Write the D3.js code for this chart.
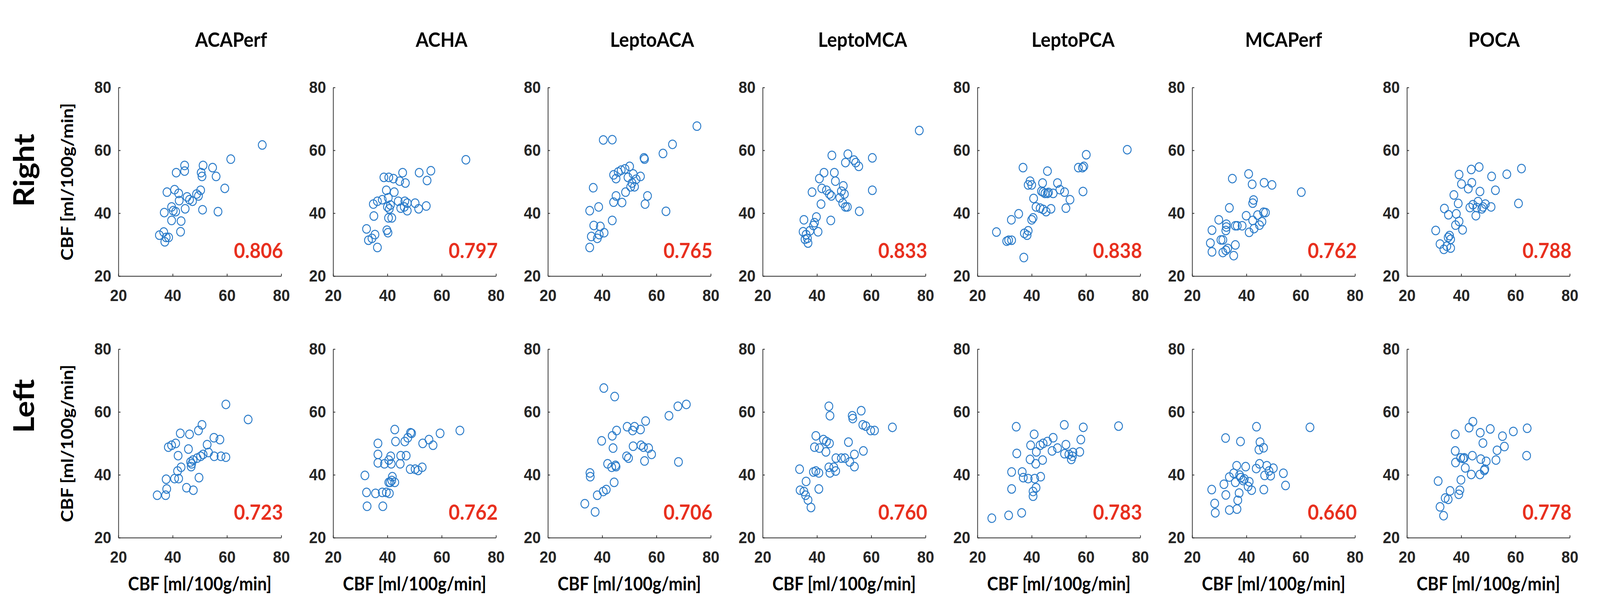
<!DOCTYPE html>
<html>
<head>
<meta charset="utf-8">
<script src="https://cdn.jsdelivr.net/npm/d3@7"></script>
<style>
  html, body { margin: 0; padding: 0; background: #fff; overflow: hidden; }
  #chart svg { display: block; width: 100vw; height: 100vh; }
  .axis path, .axis line { stroke: #262626; stroke-width: 2; }
  .axis text { font-family: "Liberation Sans", Arial, sans-serif; font-weight: bold; font-size: 43px; fill: #262626; }
  .lbl { font-family: Lato, "Open Sans", sans-serif; font-weight: bold; fill: #000; }
</style>
</head>
<body>
<div id="chart"></div>
<script>
const regions = ["ACAPerf", "ACHA", "LeptoACA", "LeptoMCA", "LeptoPCA", "MCAPerf", "POCA"];
const sides = ["Right", "Left"];
const ticks = [20, 40, 60, 80];
const rRight = ["0.806", "0.797", "0.765", "0.833", "0.838", "0.762", "0.788"];
const rLeft = ["0.723", "0.762", "0.706", "0.760", "0.783", "0.660", "0.778"];

// [x, y] CBF pairs per region and side
const acaperfRight = [[35.1,33.0],[36.7,34.0],[37.6,32.3],[37.1,30.9],[38.5,32.3],[36.9,40.2],[37.9,46.7],[39.6,37.7],[39.6,42.0],[40.2,40.8],[41.1,40.5],[40.7,47.5],[41.3,52.9],[42.2,46.3],[42.9,34.1],[43.1,37.5],[42.4,44.0],[44.4,55.2],[44.4,53.4],[44.6,41.4],[45.3,45.2],[46.2,44.3],[47.3,43.8],[48.8,46.1],[49.5,45.5],[50.3,47.3],[51.0,41.1],[50.5,52.9],[50.8,51.7],[51.2,55.2],[54.7,54.5],[56.0,51.7],[56.7,40.5],[59.2,47.9],[61.4,57.2],[73.0,61.7]];
const acaperfLeft = [[34.3,33.5],[37.4,33.5],[37.8,35.5],[37.6,38.6],[40.7,38.8],[42.2,38.8],[43.1,42.4],[41.8,41.2],[42.0,46.1],[38.4,48.8],[39.6,49.4],[41.1,50.0],[42.8,53.2],[45.1,35.9],[47.6,35.1],[45.8,48.2],[46.2,52.9],[46.6,44.1],[46.8,42.6],[47.5,44.7],[49.0,45.3],[50.3,45.9],[49.5,54.1],[50.8,55.9],[49.7,39.1],[51.2,46.5],[52.7,49.6],[53.2,47.1],[55.2,51.8],[55.3,45.9],[57.4,51.2],[57.8,45.9],[59.6,45.6],[59.6,62.4],[47.0,43.5],[67.8,57.6]];
const achaRight = [[32.3,35.0],[33.0,31.4],[34.3,32.0],[35.4,33.2],[36.3,29.1],[35.0,39.1],[34.8,42.9],[36.3,43.8],[38.7,51.4],[38.1,44.3],[39.6,47.3],[40.0,42.0],[39.8,34.6],[40.2,33.8],[40.4,38.5],[40.5,51.4],[42.2,51.0],[40.3,44.9],[41.1,42.6],[40.7,41.4],[41.6,38.5],[42.5,46.7],[44.0,43.8],[44.5,50.2],[45.6,52.9],[44.9,41.6],[46.2,42.0],[46.6,49.6],[46.4,43.8],[47.3,43.2],[47.3,40.8],[50.2,43.2],[51.5,41.4],[51.7,52.9],[54.3,42.3],[54.6,50.4],[56.0,53.5],[68.9,57.0]];
const achaLeft = [[31.7,39.8],[32.3,34.4],[32.5,30.0],[35.6,34.1],[36.5,50.0],[36.5,46.5],[36.5,43.8],[38.1,34.4],[38.3,30.0],[38.9,43.5],[39.6,34.4],[40.5,37.6],[40.5,44.7],[40.7,34.1],[41.0,37.6],[41.6,38.2],[42.7,37.6],[41.8,39.4],[41.4,43.5],[41.2,45.9],[42.7,54.4],[43.0,50.6],[44.7,43.5],[44.9,46.1],[46.4,50.6],[46.9,46.1],[47.5,51.8],[48.4,41.8],[48.9,53.2],[48.5,53.4],[50.2,41.8],[51.3,41.4],[52.8,42.4],[53.0,50.0],[55.3,51.2],[56.8,49.4],[59.4,53.2],[66.7,54.1]];
const leptoacaRight = [[35.4,29.1],[36.0,32.6],[38.2,32.0],[38.9,33.2],[40.7,33.8],[36.9,36.1],[39.3,35.8],[35.4,40.8],[38.7,42.0],[36.7,48.1],[43.7,37.7],[40.4,63.3],[43.7,63.4],[44.2,43.5],[45.1,45.5],[47.3,43.4],[48.6,46.7],[44.2,52.2],[45.1,51.0],[45.9,53.1],[47.0,53.7],[48.4,54.1],[50.1,54.9],[49.5,51.4],[51.4,52.5],[50.5,48.4],[51.9,48.4],[52.5,50.8],[54.1,51.7],[55.6,57.2],[55.4,57.6],[56.7,45.5],[55.8,42.9],[62.4,59.0],[65.9,61.9],[63.5,40.6],[74.9,67.7],[51.0,49.6]];
const leptoacaLeft = [[33.6,30.8],[37.4,28.2],[35.5,40.6],[35.6,39.4],[38.2,33.5],[40.4,34.7],[41.5,35.3],[44.4,37.6],[39.8,50.8],[44.0,48.5],[43.7,52.4],[45.3,54.1],[42.0,43.5],[43.5,42.4],[45.1,42.6],[40.6,67.6],[44.6,64.9],[49.0,45.9],[49.7,45.3],[49.2,55.3],[51.4,49.1],[51.9,55.3],[51.2,54.1],[54.1,54.4],[56.0,57.1],[54.3,49.4],[55.2,48.8],[57.1,48.5],[58.2,46.5],[55.6,44.4],[64.6,58.8],[67.9,61.8],[71.0,62.4],[68.1,44.1],[44.9,43.0]];
const leptomcaRight = [[35.2,37.9],[34.9,34.1],[36.0,33.2],[36.5,32.0],[36.7,30.5],[35.6,31.7],[37.4,34.4],[38.2,46.7],[38.7,36.1],[39.8,38.8],[39.1,37.0],[40.4,34.1],[40.9,51.0],[41.8,47.9],[42.6,52.9],[41.5,42.9],[43.5,47.3],[44.6,46.1],[45.3,45.5],[45.1,37.7],[45.5,58.4],[46.4,52.9],[46.8,50.2],[48.4,44.9],[49.0,47.0],[49.7,48.7],[49.5,43.2],[50.5,42.0],[50.1,46.1],[51.2,42.0],[50.5,56.1],[51.4,58.8],[53.6,56.9],[54.3,56.1],[55.4,54.9],[55.6,40.6],[60.4,57.6],[60.4,47.3],[77.7,66.3]];
const leptomcaLeft = [[33.6,41.8],[33.8,35.1],[35.2,34.7],[36.0,37.9],[35.8,33.5],[36.7,32.0],[37.8,29.6],[38.7,40.9],[39.6,41.2],[40.7,40.6],[40.7,35.5],[39.6,52.4],[39.1,48.8],[40.9,48.5],[42.4,51.2],[43.5,50.6],[44.6,50.0],[43.3,47.3],[44.4,61.8],[44.8,58.8],[44.4,42.4],[44.8,40.6],[46.2,42.4],[46.9,41.2],[47.0,45.3],[49.0,45.3],[50.3,45.3],[51.6,50.4],[52.1,44.1],[53.0,58.8],[53.2,57.9],[53.8,46.5],[53.8,42.6],[56.3,60.4],[56.9,55.9],[58.0,55.5],[59.8,54.1],[57.1,47.6],[61.2,54.1],[67.8,55.1]];
const leptopcaRight = [[27.0,34.0],[30.8,31.1],[32.6,31.4],[31.5,31.4],[32.5,37.9],[35.2,39.8],[36.8,54.5],[37.1,25.9],[37.3,33.6],[38.3,33.0],[38.7,34.4],[38.7,49.0],[39.4,50.2],[40.0,49.0],[40.7,44.7],[40.0,37.9],[40.5,38.5],[41.6,42.0],[44.0,49.6],[45.8,53.4],[44.2,46.7],[44.9,46.3],[45.8,46.3],[43.6,47.0],[46.2,46.6],[43.1,41.6],[44.2,41.2],[45.3,40.5],[47.1,41.4],[47.9,46.3],[49.5,49.6],[50.4,47.5],[52.1,46.7],[52.6,41.6],[54.1,44.3],[57.2,54.5],[58.7,54.5],[60.1,58.6],[59.2,54.9],[58.9,46.9],[75.2,60.2]];
const leptopcaLeft = [[25.3,26.2],[31.5,27.1],[36.3,27.9],[32.6,35.5],[32.6,40.9],[34.3,55.3],[34.5,46.8],[36.5,40.9],[36.9,39.1],[38.7,38.8],[39.4,44.9],[39.6,49.4],[40.5,33.2],[40.5,34.7],[40.9,52.9],[41.1,38.8],[41.5,43.5],[41.7,47.3],[41.6,35.9],[43.3,39.4],[44.0,44.7],[43.1,49.4],[44.2,50.0],[45.8,50.6],[47.5,47.6],[47.9,51.8],[49.5,48.5],[52.0,55.9],[52.6,49.6],[52.1,46.7],[53.7,46.5],[55.0,45.9],[55.2,47.1],[54.6,44.9],[57.7,47.3],[58.1,51.2],[59.0,55.1],[72.0,55.5]];
const mcaperfRight = [[34.8,51.0],[40.8,52.5],[42.1,49.2],[46.5,49.7],[49.4,49.0],[60.2,46.7],[42.6,44.2],[42.3,43.2],[33.7,41.7],[29.8,37.9],[39.9,39.2],[46.3,40.3],[47.0,40.2],[44.1,39.4],[42.3,37.7],[45.7,37.3],[44.8,36.2],[42.8,35.1],[41.0,33.9],[38.4,36.0],[35.9,36.0],[32.6,35.6],[32.4,34.5],[27.3,34.6],[31.3,31.5],[30.6,31.5],[26.7,30.5],[35.9,29.9],[27.3,27.7],[31.3,27.5],[32.4,28.2],[35.3,26.5],[33.1,28.8],[36.6,36.0],[32.6,36.5]];
const mcaperfLeft = [[43.7,55.3],[63.4,55.1],[32.3,51.7],[37.8,50.6],[45.0,50.4],[46.3,48.6],[44.6,48.0],[36.4,42.9],[39.7,42.6],[44.8,43.5],[43.6,42.0],[47.5,42.9],[49.9,42.1],[53.6,40.5],[46.7,39.8],[48.9,39.7],[48.3,41.2],[54.4,36.6],[46.4,35.3],[41.9,35.1],[40.6,36.3],[41.0,37.8],[39.2,38.7],[37.9,39.1],[37.5,39.9],[35.3,40.5],[33.7,39.3],[35.9,37.6],[31.7,37.0],[27.2,35.3],[32.4,33.6],[37.3,34.2],[36.8,31.9],[28.3,30.9],[28.5,27.9],[33.7,28.8],[36.5,29.1],[38.8,38.2]];
const pocaRight = [[30.6,34.5],[33.8,41.5],[35.3,39.5],[37.3,45.8],[38.9,43.1],[38.2,39.8],[39.2,37.4],[37.9,36.2],[40.5,34.7],[39.2,52.3],[40.1,49.3],[43.7,53.9],[46.6,54.7],[43.9,49.7],[42.6,47.8],[46.9,46.9],[51.2,51.7],[56.8,52.4],[62.2,54.2],[52.6,47.3],[61.1,43.1],[44.3,42.7],[46.2,43.7],[45.7,41.8],[48.9,42.9],[51.0,42.0],[47.6,41.4],[45.4,39.2],[43.2,41.8],[35.2,32.3],[36.1,31.7],[32.2,30.2],[33.6,28.5],[36.1,28.9],[34.7,29.5],[35.7,32.9],[48.0,42.0]];
const pocaLeft = [[44.3,56.9],[42.9,55.0],[50.7,54.6],[47.0,53.4],[59.2,53.8],[64.3,54.8],[37.8,52.9],[48.0,50.1],[55.2,52.3],[55.9,49.0],[53.2,47.8],[52.8,44.7],[64.1,46.1],[37.8,47.6],[44.1,46.1],[41.1,45.4],[39.8,45.4],[40.7,45.2],[37.9,43.9],[41.5,42.2],[47.2,45.0],[49.2,44.3],[48.7,41.8],[43.7,40.1],[46.9,40.1],[48.5,41.4],[31.5,38.0],[39.9,38.4],[39.5,35.1],[39.1,33.8],[35.9,34.9],[34.1,32.6],[35.2,32.2],[32.2,29.8],[33.5,27.0]];

const rightData = [acaperfRight, achaRight, leptoacaRight, leptomcaRight, leptopcaRight, mcaperfRight, pocaRight];
const leftData = [acaperfLeft, achaLeft, leptoacaLeft, leptomcaLeft, leptopcaLeft, mcaperfLeft, pocaLeft];

const width = 4500, height = 1575;
const left0 = 333, step = 604, plotW = 458, plotH = 483;
const rowTop = [224, 894];
const axisLabel = "CBF [ml/100g/min]";

// stretch the 4500x1575 drawing over whatever the viewport is
const svg = d3.select("#chart")
  .append("svg")
  .attr("viewBox", `0 0 ${width} ${height}`)
  .attr("preserveAspectRatio", "none");

const x = d3.scaleLinear().domain([20, 80]).range([0, plotW]);
const y = d3.scaleLinear().domain([20, 80]).range([plotH, 0]);

function drawPanel(data, r, col, row) {
  const g = svg.append("g")
    .attr("transform", `translate(${left0 + col * step},${rowTop[row]})`);

  g.append("g")
    .attr("class", "axis")
    .attr("transform", `translate(0,${plotH})`)
    .call(d3.axisBottom(x).tickValues(ticks).tickSizeInner(-6).tickSizeOuter(0).tickPadding(33));

  g.append("g")
    .attr("class", "axis")
    .call(d3.axisLeft(y).tickValues(ticks).tickSizeInner(-6).tickSizeOuter(0).tickPadding(20));

  g.selectAll("circle")
    .data(data)
    .join("circle")
    .attr("cx", d => x(d[0]))
    .attr("cy", d => y(d[1]))
    .attr("r", 11)
    .attr("fill", "none")
    .attr("stroke", "#2a7bc9")
    .attr("stroke-width", 2.5);

  g.append("text")
    .attr("class", "lbl")
    .attr("x", x(80) + 5)
    .attr("y", plotH - 46)
    .attr("text-anchor", "end")
    .style("font-size", "54px")
    .style("fill", "#e8301f")
    .text(r);

  if (row == 1) {
    g.append("text")
      .attr("class", "lbl")
      .attr("x", plotW / 2)
      .attr("y", 1512 - rowTop[1])
      .attr("text-anchor", "middle")
      .style("font-size", "47px")
      .text(axisLabel);
  }
  if (col == 0) {
    g.append("text")
      .attr("class", "lbl")
      .attr("transform", `translate(-128,${plotH / 2}) rotate(-90)`)
      .attr("text-anchor", "middle")
      .style("font-size", "47px")
      .text(axisLabel);
  }
}

regions.forEach((name, i) => {
  svg.append("text")
    .attr("class", "lbl")
    .attr("x", 650 + i * 592)
    .attr("y", 120)
    .attr("text-anchor", "middle")
    .style("font-size", "52px")
    .text(name);
  drawPanel(rightData[i], rRight[i], i, 0);
  drawPanel(leftData[i], rLeft[i], i, 1);
});

// row labels
const rowLabelY = [436, 1040];
sides.forEach((s, j) => {
  svg.append("text")
    .attr("class", "lbl")
    .attr("transform", `translate(96,${rowLabelY[j]}) rotate(-90)`)
    .attr("text-anchor", "middle")
    .style("font-size", "80px")
    .text(s);
});
</script>
</body>
</html>
